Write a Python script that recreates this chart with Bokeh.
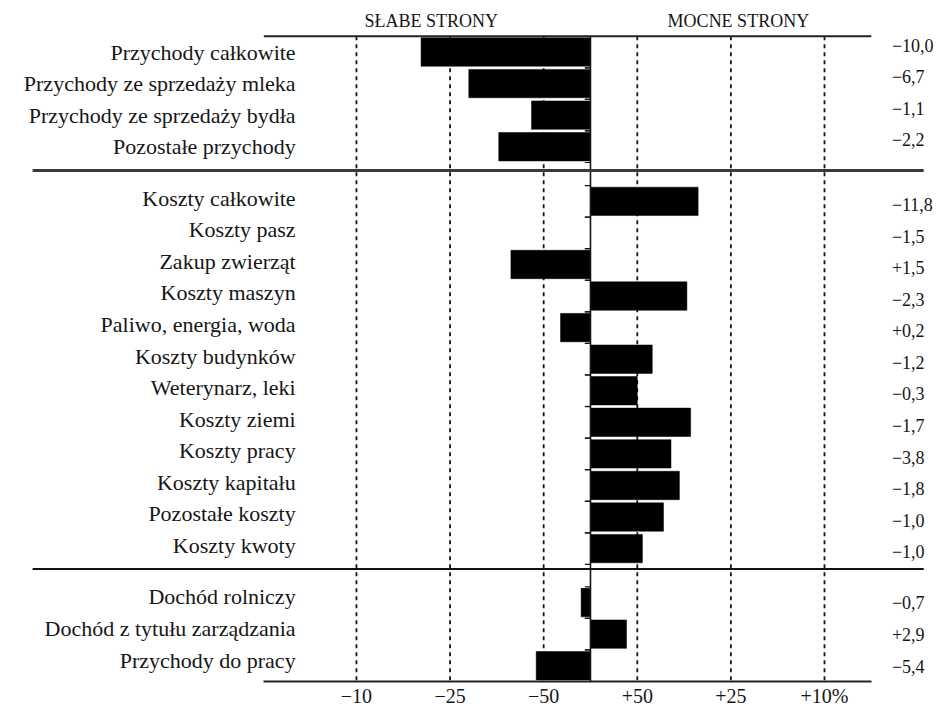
from bokeh.plotting import figure
from bokeh.models import Range1d, LinearAxis, FixedTicker
from bokeh.core.properties import value
from bokeh.embed import file_html
from bokeh.resources import INLINE

# ---------------- data ----------------
revenue_labels = ["Przychody całkowite", "Przychody ze sprzedaży mleka",
                  "Przychody ze sprzedaży bydła", "Pozostałe przychody"]
revenue_scores = [-1.81, -1.30, -0.63, -0.98]
revenue_values = ["\u221210,0", "\u22126,7", "\u22121,1", "\u22122,2"]

cost_labels = ["Koszty całkowite", "Koszty pasz", "Zakup zwierząt", "Koszty maszyn",
               "Paliwo, energia, woda", "Koszty budynków", "Weterynarz, leki",
               "Koszty ziemi", "Koszty pracy", "Koszty kapitału", "Pozostałe koszty",
               "Koszty kwoty"]
cost_scores = [1.15, 0.0, -0.85, 1.03, -0.32, 0.66, 0.50, 1.07, 0.86, 0.95, 0.78, 0.555]
cost_values = ["\u221211,8", "\u22121,5", "+1,5", "\u22122,3", "+0,2", "\u22121,2",
               "\u22120,3", "\u22121,7", "\u22123,8", "\u22121,8", "\u22121,0", "\u22121,0"]

income_labels = ["Dochód rolniczy", "Dochód z tytułu zarządzania", "Przychody do pracy"]
income_scores = [-0.10, 0.385, -0.58]
income_values = ["\u22120,7", "+2,9", "\u22125,4"]

tick_positions = [-2.5, -1.5, -0.5, 0.5, 1.5, 2.5]
tick_labels = ["\u221210", "\u221225", "\u221250", "+50", "+25", "+10%"]

side_titles = ["SŁABE STRONY", "MOCNE STRONY"]
side_title_x = [-1.70, 1.58]

# ---------------- layout ----------------
groups = [(revenue_labels, revenue_scores, revenue_values),
          (cost_labels, cost_scores, cost_values),
          (income_labels, income_scores, income_values)]
GAP = 0.63
SEP = 0.25
bar_shift = [0.0, 0.1, 0.18]
val_shift = [-0.22, 0.2, 0.19]

lab_y, labs, bar_y, bars, val_y, vals, seps = [], [], [], [], [], [], []
pos = 0.0
for gi, (gl, gs, gv) in enumerate(groups):
    for i in range(len(gl)):
        yc = pos + 0.5
        lab_y.append(yc); labs.append(gl[i])
        bar_y.append(yc + bar_shift[gi]); bars.append(gs[i])
        val_y.append(yc + val_shift[gi]); vals.append(gv[i])
        pos += 1.0
    if gi < len(groups) - 1:
        seps.append(pos + SEP)
        pos += GAP
bottom = pos + 0.18

FONT = value("Liberation Serif")
INK = "#161616"

p = figure(width=935, height=709,
           x_range=Range1d(-6.303, 3.686), y_range=Range1d(bottom, -1.132),
           output_backend="svg", toolbar_location=None,
           x_axis_location=None, y_axis_location=None,
           min_border_left=0, min_border_right=0, min_border_top=0,
           min_border_bottom=23)
p.outline_line_color = None
p.background_fill_color = "white"
p.border_fill_color = "white"
p.grid.visible = False

# dashed reference lines
p.segment(x0=tick_positions, x1=tick_positions,
          y0=[0] * len(tick_positions), y1=[bottom] * len(tick_positions),
          line_color=INK, line_width=1.8, line_dash="4 4")

# bars
p.hbar(y=bar_y, height=0.9, left=0, right=bars, fill_color="black",
       line_color="black", line_width=0.5)

# center line and small ticks
p.segment(x0=[0], x1=[0], y0=[0], y1=[bottom], line_color=INK, line_width=1.6)
tick_y = [y - 0.5 for y in bar_y] + [y + 0.5 for y in bar_y]
p.segment(x0=[-0.06] * len(tick_y), x1=[0] * len(tick_y), y0=tick_y, y1=tick_y,
          line_color=INK, line_width=1.2)

# top line
p.segment(x0=[-3.49], x1=[3.0], y0=[0], y1=[0], line_color="#222222", line_width=2)

# group separators
p.segment(x0=[-5.96], x1=[3.56], y0=[seps[0]], y1=[seps[0]], line_color="#3a3a3a", line_width=3)
p.segment(x0=[-5.96], x1=[3.56], y0=[seps[1]], y1=[seps[1]], line_color="#111111", line_width=2)

# row labels
p.text(x=[-3.15] * len(labs), y=lab_y, text=labs, text_font=FONT,
       text_font_size="22px", text_align="right", text_baseline="middle",
       text_color=INK)

# value labels
p.text(x=[3.22] * len(vals), y=val_y, text=vals, text_font=FONT,
       text_font_size="18px", text_align="left", text_baseline="middle",
       text_color=INK)

# side titles
p.text(x=side_title_x, y=[-0.47, -0.47], text=side_titles, text_font=FONT,
       text_font_size="18px", text_align="center", text_baseline="middle",
       text_color=INK)

# bottom axis
ax = LinearAxis(ticker=FixedTicker(ticks=tick_positions),
                major_label_overrides={t: l for t, l in zip(tick_positions, tick_labels)},
                bounds=(-3.49, 3.0))
ax.axis_line_width = 2
ax.axis_line_color = "#222222"
ax.major_tick_line_color = None
ax.minor_tick_line_color = None
ax.major_tick_out = 0
ax.major_tick_in = 0
ax.major_label_standoff = 3
ax.major_label_text_font = "Liberation Serif"
ax.major_label_text_font_size = "20px"
ax.major_label_text_color = INK
p.add_layout(ax, "below")

open("out.html", "w").write(file_html(p, INLINE))
